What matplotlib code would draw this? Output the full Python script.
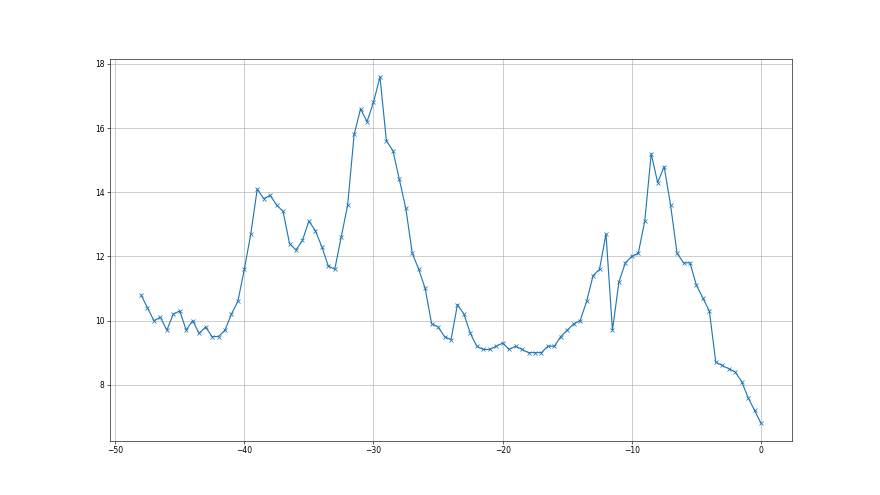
import matplotlib
matplotlib.use("Agg")
import matplotlib.pyplot as plt
import numpy as np

# x positions: half-unit steps from -48 to 0
x_start = -48
x_step = 0.5
values = [
    10.8, 10.4, 10.0, 10.1, 9.7, 10.2, 10.3, 9.7, 10.0, 9.6,
    9.8, 9.5, 9.5, 9.7, 10.2, 10.6, 11.6, 12.7, 14.1, 13.8,
    13.9, 13.6, 13.4, 12.4, 12.2, 12.5, 13.1, 12.8, 12.3, 11.7,
    11.6, 12.6, 13.6, 15.8, 16.6, 16.2, 16.8, 17.6, 15.6, 15.3,
    14.4, 13.5, 12.1, 11.6, 11.0, 9.9, 9.8, 9.5, 9.4, 10.5,
    10.2, 9.6, 9.2, 9.1, 9.1, 9.2, 9.3, 9.1, 9.2, 9.1,
    9.0, 9.0, 9.0, 9.2, 9.2, 9.5, 9.7, 9.9, 10.0, 10.6,
    11.4, 11.6, 12.7, 9.7, 11.2, 11.8, 12.0, 12.1, 13.1, 15.2,
    14.3, 14.8, 13.6, 12.1, 11.8, 11.8, 11.1, 10.7, 10.3, 8.7,
    8.6, 8.5, 8.4, 8.1, 7.6, 7.2, 6.8,
]
x = x_start + x_step * np.arange(len(values))

fig = plt.figure(figsize=(16, 9), dpi=55)
plt.plot(x, values, marker='x')
plt.grid(True)
plt.savefig("out.png", dpi=55)
